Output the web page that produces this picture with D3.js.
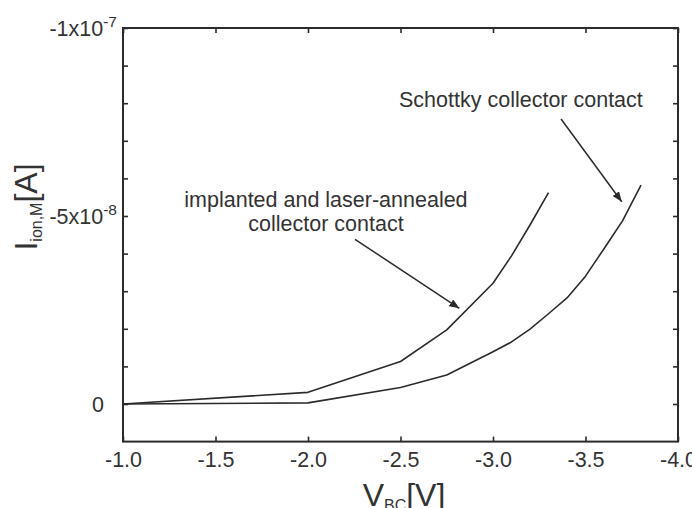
<!DOCTYPE html>
<html><head><meta charset="utf-8">
<script src="https://cdn.jsdelivr.net/npm/d3@7"></script>
<style>
html,body{margin:0;padding:0;background:#fff;}
svg{display:block;}
text{font-family:"Liberation Sans",Arial,Helvetica,sans-serif;fill:#333;}
</style></head>
<body>
<svg id="chart" width="692" height="508"></svg>
<script>
// ---- data ----
const implantedV = [-1.0, -2.0, -2.5, -2.75, -3.0, -3.1, -3.2, -3.3];
const implantedI = [0, -3.1e-9, -1.13e-8, -1.97e-8, -3.21e-8, -3.94e-8, -4.76e-8, -5.62e-8];
const schottkyV = [-1.0, -2.0, -2.5, -2.75, -3.0, -3.1, -3.2, -3.3, -3.4, -3.5, -3.6, -3.7, -3.8];
const schottkyI = [0, -3e-10, -4.4e-9, -7.7e-9, -1.39e-8, -1.65e-8, -1.99e-8, -2.40e-8, -2.82e-8, -3.40e-8, -4.13e-8, -4.87e-8, -5.82e-8];
const xTicks = [-1.0, -1.5, -2.0, -2.5, -3.0, -3.5, -4.0];
const yMinorTicks = [0, -1e-8, -2e-8, -3e-8, -4e-8, -5e-8, -6e-8, -7e-8, -8e-8, -9e-8, -1e-7];
const yLabels = [ {v: 0, base: "0", exp: ""}, {v: -5e-8, base: "-5x10", exp: "-8"}, {v: -1e-7, base: "-1x10", exp: "-7"} ];
// annotations (data coordinates)
const arrowImplanted = [[-2.254, -4.38e-8], [-2.818, -2.545e-8]];
const arrowSchottky = [[-3.368, -7.58e-8], [-3.696, -5.38e-8]];
const labelSchottky = {v: -2.492, i: -7.89e-8, text: "Schottky collector contact"};
const labelImplanted = [{v: -2.097, i: -5.247e-8, text: "implanted and laser-annealed"},
                        {v: -2.097, i: -4.60e-8, text: "collector contact"}];

// ---- layout ----
const svg = d3.select("#chart");
const L = 123, R = 678, T = 28, B = 441.6;
const x = d3.scaleLinear().domain([-1, -4]).range([L, R]);
const y = d3.scaleLinear().domain([1e-8, -1e-7]).range([B, T]);
const ink = "#2b2b2b";
const fs = 21.5;

svg.append("rect").attr("width", 692).attr("height", 508).attr("fill", "#fff");

// axes
const fmt = d => d.toFixed(1);
const gb = svg.append("g").attr("transform", `translate(0,${B})`)
  .call(d3.axisBottom(x).tickValues(xTicks).tickSize(-5).tickPadding(10).tickFormat(fmt));
const gt = svg.append("g").attr("transform", `translate(0,${T})`)
  .call(d3.axisTop(x).tickValues(xTicks).tickSize(-5).tickFormat(""));
const gl = svg.append("g").attr("transform", `translate(${L},0)`)
  .call(d3.axisLeft(y).tickValues(yMinorTicks).tickSize(-5).tickFormat(""));
const gr = svg.append("g").attr("transform", `translate(${R},0)`)
  .call(d3.axisRight(y).tickValues(yMinorTicks).tickSize(-5).tickFormat(""));
[gb, gt, gl, gr].forEach(g => {
  g.select(".domain").remove();
  g.selectAll(".tick line").attr("stroke", ink).attr("stroke-width", 1.6);
});
gb.selectAll(".tick text").attr("font-family", "Liberation Sans, Arial, sans-serif")
  .attr("font-size", fs).attr("fill", "#333");

// frame
svg.append("rect").attr("x", L).attr("y", T).attr("width", R - L).attr("height", B - T)
  .attr("fill", "none").attr("stroke", ink).attr("stroke-width", 2);

// y labels
yLabels.forEach(d => {
  const t = svg.append("text").attr("y", y(d.v)).attr("dy", "0.36em")
    .attr("font-size", fs);
  if (d.exp) {
    t.attr("x", 117).attr("text-anchor", "end");
    t.append("tspan").text(d.base);
    t.append("tspan").attr("font-size", 15.5).attr("dy", "-0.55em").text(d.exp);
  } else {
    t.attr("x", 104).attr("text-anchor", "end").text(d.base);
  }
});

// curves
const line = d3.line().x(d => x(d[0])).y(d => y(d[1]));
const implanted = implantedV.map((v, i) => [v, implantedI[i]]);
const schottky = schottkyV.map((v, i) => [v, schottkyI[i]]);
[implanted, schottky].forEach(data => {
  svg.append("path").datum(data).attr("d", line).attr("fill", "none")
    .attr("stroke", ink).attr("stroke-width", 1.6).attr("stroke-linejoin", "round");
});

// arrow marker
svg.append("defs").append("marker").attr("id", "ah")
  .attr("viewBox", "0 0 10 8").attr("refX", 10).attr("refY", 4)
  .attr("markerWidth", 10).attr("markerHeight", 8).attr("markerUnits", "userSpaceOnUse")
  .attr("orient", "auto")
  .append("path").attr("d", "M0,0 L10,4 L0,8 Z").attr("fill", ink);
[arrowImplanted, arrowSchottky].forEach(a => {
  svg.append("line").attr("x1", x(a[0][0])).attr("y1", y(a[0][1]))
    .attr("x2", x(a[1][0])).attr("y2", y(a[1][1]))
    .attr("stroke", ink).attr("stroke-width", 1.5).attr("marker-end", "url(#ah)");
});

// annotation text
svg.append("text").attr("x", x(labelSchottky.v)).attr("y", y(labelSchottky.i))
  .attr("font-size", fs).text(labelSchottky.text);
labelImplanted.forEach(d => {
  svg.append("text").attr("x", x(d.v)).attr("y", y(d.i)).attr("text-anchor", "middle")
    .attr("font-size", fs).text(d.text);
});

// axis titles
const xt = svg.append("text").attr("x", 404).attr("y", 506).attr("text-anchor", "middle")
  .attr("font-size", 32);
xt.append("tspan").text("V");
xt.append("tspan").attr("font-size", 16).attr("dy", "0.3em").text("BC");
xt.append("tspan").attr("dy", "-0.15em").text("[V]");

const yt = svg.append("text").attr("transform", "translate(37,207) rotate(-90)")
  .attr("text-anchor", "middle").attr("font-size", 32);
yt.append("tspan").text("I");
yt.append("tspan").attr("font-size", 16).attr("dy", "0.3em").text("ion,M");
yt.append("tspan").attr("dy", "-0.15em").text("[A]");
</script>
</body></html>
